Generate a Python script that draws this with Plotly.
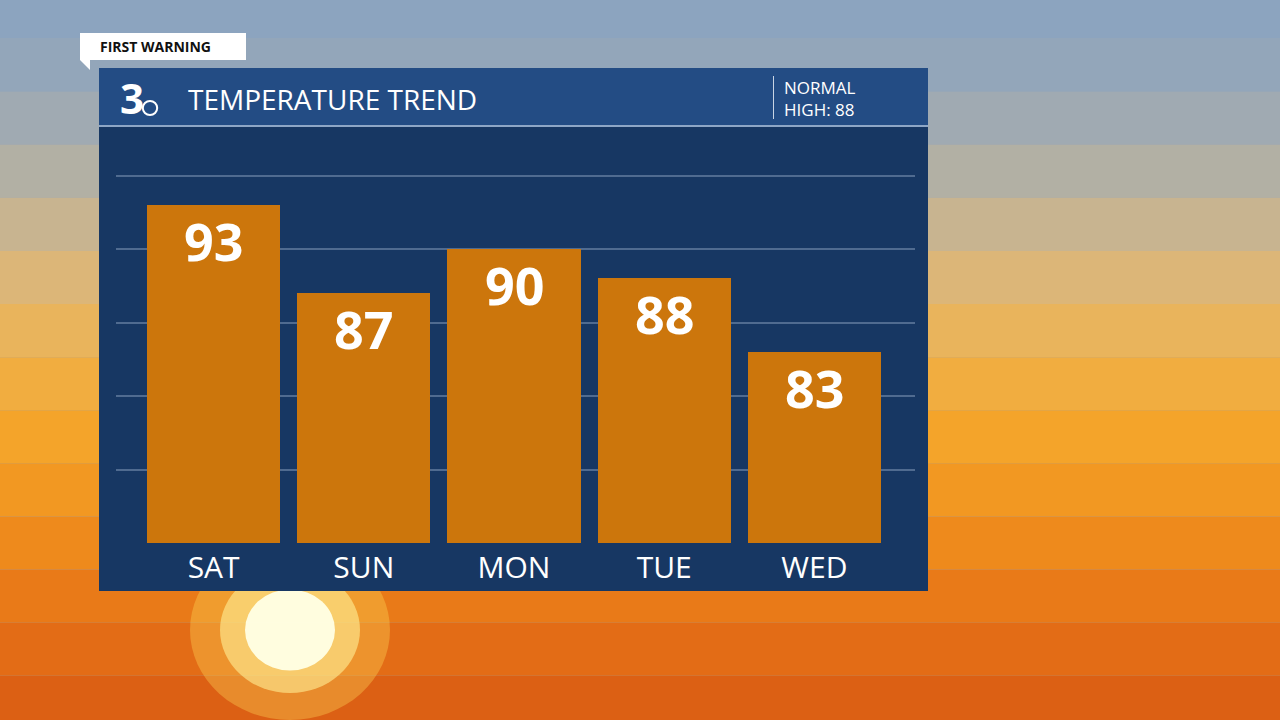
import plotly.graph_objects as go

days = ["SAT", "SUN", "MON", "TUE", "WED"]
highs = [93, 87, 90, 88, 83]
normal_high = 88
title = "TEMPERATURE TREND"

fig = go.Figure()
fig.add_trace(go.Bar(
    x=days, y=highs, width=0.887,
    marker=dict(color="#cc760c", line=dict(width=0)), hoverinfo="skip",
))

shapes = []
sky = ["#8ca4bf", "#93a6ba", "#a0aab2", "#b2b0a4", "#c8b490", "#dcb678", "#e9b45c",
       "#f1ad40", "#f4a42a", "#f29822", "#ee8a1c", "#e97a18", "#e36c16", "#dc6014"]
n = len(sky)
for i, c in enumerate(sky):
    shapes.append(dict(type="rect", xref="paper", yref="paper", x0=-1, x1=2,
                       y0=1.35 - (i + 1) * 1.8 / n, y1=1.35 - i * 1.8 / n,
                       fillcolor=c, line=dict(width=0), layer="below"))

def px(x, y):
    return (x - 116) / 799, (543 - y) / 413

for r, c in [(100, "rgba(255,220,90,0.35)"), (70, "rgba(255,240,150,0.6)"), (45, "rgba(255,255,230,0.95)")]:
    a, b = px(290 - r, 630 + r * 0.9)
    cc, d = px(290 + r, 630 - r * 0.9)
    shapes.append(dict(type="circle", xref="paper", yref="paper", x0=a, x1=cc, y0=b, y1=d,
                       fillcolor=c, line=dict(width=0), layer="below"))

def rect(x0, y0, x1, y1, color, layer="below"):
    a, b = px(x0, y1)
    c, d = px(x1, y0)
    shapes.append(dict(type="rect", xref="paper", yref="paper", x0=a, y0=b, x1=c, y1=d,
                       fillcolor=color, line=dict(width=0), layer=layer))

rect(99, 126, 928, 591, "#173763")
rect(99, 68, 928, 126, "#234c84")
rect(99, 125, 928, 127, "#8ea6c6")
rect(773, 76, 774, 119, "#c8d4e4")
rect(80, 33, 246, 60, "#ffffff")
shapes.append(dict(type="path", xref="paper", yref="paper",
                   path="M %f %f L %f %f L %f %f Z" % (*px(80, 60), *px(90, 60), *px(90, 70)),
                   fillcolor="#ffffff", line=dict(width=0)))

anns = [
    dict(x=px(98, 47)[0], y=px(98, 47)[1], text="<b>FIRST WARNING</b>", xanchor="left",
         font=dict(color="#111", size=14, family="Open Sans")),
    dict(x=px(186, 99)[0], y=px(186, 99)[1], text=title, xanchor="left",
         font=dict(color="white", size=28, family="Open Sans")),
    dict(x=px(118, 97)[0], y=px(118, 97)[1], text="<b>3</b>", xanchor="left",
         font=dict(color="white", size=42, family="Open Sans")),
    dict(x=px(782, 98)[0], y=px(782, 98)[1], text="NORMAL<br>HIGH: %d" % normal_high, xanchor="left",
         align="left", font=dict(color="white", size=17, family="Open Sans")),
]
for a in anns:
    a.update(xref="paper", yref="paper", showarrow=False, yanchor="middle")
for d, v in zip(days, highs):
    anns.append(dict(x=d, y=v, xref="x", yref="y", text="<b>%d</b>" % v, showarrow=False,
                     yanchor="top", yshift=2, font=dict(color="white", size=52, family="Open Sans")))
c0, c1 = px(150, 108)
shapes.append(dict(type="circle", xref="paper", yref="paper", x0=c0 - 0.009, x1=c0 + 0.009,
                   y0=c1 - 0.017, y1=c1 + 0.017, fillcolor="#234c84", line=dict(color="white", width=2)))

fig.update_layout(
    width=1280, height=720, margin=dict(l=116, r=365, t=130, b=177),
    paper_bgcolor="#9aa8b4", plot_bgcolor="rgba(0,0,0,0)",
    shapes=shapes, annotations=anns, showlegend=False, bargap=0,
    xaxis=dict(range=[-0.65, 4.67], showgrid=False, zeroline=False, ticks="", ticklabelstandoff=4,
               tickfont=dict(color="white", size=30, family="Open Sans"), showline=False),
    yaxis=dict(range=[70, 98.1], tickvals=[70, 75, 80, 85, 90, 95], showticklabels=False,
               gridcolor="rgba(150,170,200,0.45)", gridwidth=2, zeroline=False),
)
fig.write_html("out.html", config={"displayModeBar": False},
               post_script="document.body.style.margin='0';document.body.style.overflow='hidden';")
